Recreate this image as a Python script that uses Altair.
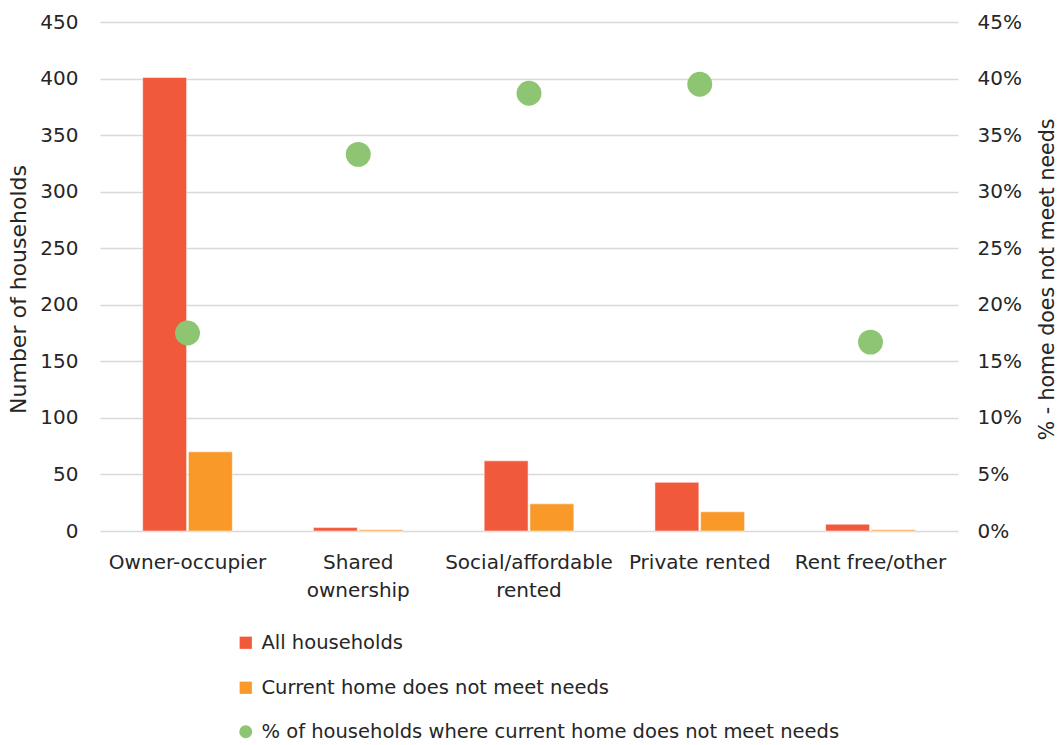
import altair as alt
import pandas as pd

# Household tenure figures
categories = ["Owner-occupier", "Shared\nownership", "Social/affordable\nrented",
              "Private rented", "Rent free/other"]
all_households = [401, 3, 62, 43, 6]
not_meeting_needs = [70, 1, 24, 17, 1]
pct_not_meeting = [17.5, 33.3, 38.7, 39.5, 16.7]

series_names = ["All households", "Current home does not meet needs"]
pct_name = "% of households where current home does not meet needs"

bar_rows = []
for cat, a, n in zip(categories, all_households, not_meeting_needs):
    bar_rows.append({"tenure": cat, "series": series_names[0], "value": a})
    bar_rows.append({"tenure": cat, "series": series_names[1], "value": n})
bars_df = pd.DataFrame(bar_rows)

pct_df = pd.DataFrame({
    "tenure": categories,
    "pct": [p / 100 for p in pct_not_meeting],
    "series": [pct_name] * len(categories),
})

FONT = "DejaVu Sans"
TEXT = "#262626"
FS = 20
LEG_FS = 19.5

x_enc = alt.X(
    "tenure:N", sort=categories, title=None,
    scale=alt.Scale(paddingInner=0.475, paddingOuter=0.25),
    axis=alt.Axis(labelExpr="split(datum.label, '\\n')", labelAngle=0,
                  domain=False, ticks=False, labelPadding=21,
                  labelFontSize=FS, labelLineHeight=28, labelColor=TEXT,
                  labelFont=FONT),
)

bars = alt.Chart(bars_df).mark_bar(stroke="white", strokeWidth=0.5).encode(
    x=x_enc,
    xOffset=alt.XOffset("series:N", sort=series_names,
                        scale=alt.Scale(paddingInner=0.04)),
    y=alt.Y("value:Q", title="Number  of households",
            scale=alt.Scale(domain=[0, 450]),
            axis=alt.Axis(values=list(range(0, 451, 50)), grid=True,
                          gridColor="#d9d9d9", gridWidth=1.5,
                          domain=False, ticks=False, labelPadding=22,
                          labelFontSize=FS, labelColor=TEXT, labelFont=FONT,
                          titleFontSize=22, titleFont=FONT, titleColor=TEXT,
                          titleFontWeight="normal", titlePadding=9,
                          titleY=267)),
    color=alt.Color("series:N",
                    scale=alt.Scale(domain=series_names,
                                    range=["#F05A3B", "#F8992A"]),
                    legend=alt.Legend(title=None, orient="none",
                                      legendX=136, legendY=611,
                                      symbolType="square", symbolSize=150,
                                      symbolStrokeWidth=0,
                                      labelFontSize=LEG_FS, labelFont=FONT,
                                      labelColor=TEXT, rowPadding=24,
                                      labelOffset=6, labelLimit=700)),
)

points = alt.Chart(pct_df).mark_point(filled=True, opacity=1, size=620).encode(
    x=x_enc,
    y=alt.Y("pct:Q", title="% - home does not meet  needs",
            scale=alt.Scale(domain=[0, 0.45]),
            axis=alt.Axis(orient="right", format=".0%",
                          values=[i / 100 for i in range(0, 46, 5)],
                          grid=False, domain=False, ticks=False,
                          labelPadding=19, labelFontSize=FS, labelColor=TEXT,
                          labelFont=FONT, titleFontSize=20.5, titleFont=FONT,
                          titleColor=TEXT, titleFontWeight="normal",
                          titleAngle=270, titlePadding=36, titleY=257)),
    color=alt.Color("series:N",
                    scale=alt.Scale(domain=[pct_name], range=["#8DC572"]),
                    legend=alt.Legend(title=None, orient="none",
                                      legendX=136, legendY=700,
                                      symbolType="circle", symbolSize=170,
                                      symbolStrokeWidth=0,
                                      labelFontSize=LEG_FS, labelFont=FONT,
                                      labelColor=TEXT, labelOffset=6,
                                      labelLimit=800)),
)

chart = (
    alt.layer(bars, points)
    .resolve_scale(y="independent", color="independent")
    .properties(
        width=858, height=509,
        autosize=alt.AutoSizeParams(type="none"),
        padding={"left": 100, "top": 22, "right": 106, "bottom": 214},
        background="white",
    )
    .configure_view(stroke=None)
)

chart.save("out.html", embed_options={"renderer": "svg", "actions": False})
